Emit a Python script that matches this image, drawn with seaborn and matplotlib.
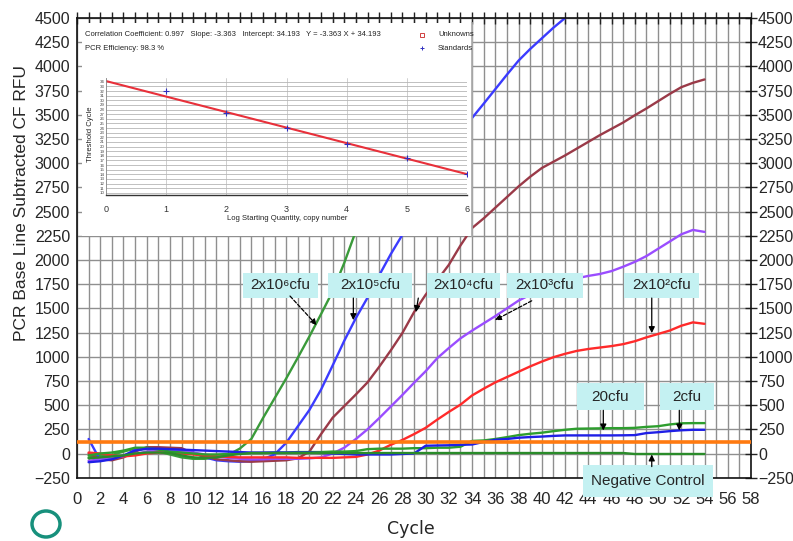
import numpy as np
import pandas as pd
import matplotlib
matplotlib.use("Agg")
import matplotlib.pyplot as plt
import seaborn as sns
from matplotlib.patches import Rectangle, Ellipse
from matplotlib.lines import Line2D
from matplotlib.ticker import MultipleLocator

# ---------------- data ----------------
cycles = list(range(1, 55))
nan = np.nan

rfu_2e6 = [-40, -20, -15, 20, 50, 45, 20, -10, -40, -55, -55, -40, -15, 50, 150, 365, 570, 775, 990, 1210,
           1440, 1675, 1970, 2300, 2650, 3000, 3350, 3700, 4000, 4250] + [nan] * 24
rfu_2e5 = [150, -70, -60, -30, 40, 50, 45, 40, 30, 10, -40, -70, -80, -85, -80, -60, -10, 110, 280, 450,
           660, 910, 1165, 1400, 1610, 1840, 2060, 2260, 2460, 2660, 2860, 3060, 3260, 3468, 3615, 3765,
           3915, 4060, 4180, 4290, 4400, 4500, 4600] + [nan] * 11
rfu_2e4 = [0, -60, -70, -40, 20, 65, 65, 60, 55, 0, -30, -60, -70, -80, -85, -80, -75, -70, -50, 20,
           200, 370, 490, 610, 735, 895, 1065, 1245, 1460, 1640, 1790, 1950, 2150, 2330, 2430, 2540,
           2650, 2760, 2860, 2950, 3015, 3080, 3150, 3220, 3290, 3355, 3420, 3495, 3565, 3640, 3715,
           3785, 3830, 3865]
rfu_2e3 = [-75, -60, -45, -30, -5, 20, 30, 30, 25, 10, -10, -30, -45, -55, -60, -60, -55, -55, -55, -50,
           -40, 0, 60, 150, 250, 365, 485, 605, 730, 850, 985, 1090, 1190, 1270, 1345, 1420, 1500, 1580,
           1640, 1690, 1735, 1770, 1810, 1835, 1855, 1885, 1930, 1980, 2040, 2115, 2190, 2265, 2310, 2290]
rfu_2e2 = [10, 0, -20, -30, -20, 0, 10, 10, 0, -10, -20, -30, -35, -40, -40, -40, -40, -40, -45, -45,
           -45, -45, -40, -35, -10, 30, 90, 140, 200, 265, 350, 430, 505, 600, 670, 735, 790, 845, 900,
           950, 995, 1030, 1060, 1080, 1095, 1110, 1130, 1160, 1200, 1235, 1270, 1320, 1355, 1340]
rfu_20 = [-20, 0, 10, 30, 60, 60, 40, 20, 10, 0, -10, -10, -5, 0, 5, 5, 10, 10, 15, 15, 15, 20, 20, 25,
          45, 50, 50, 50, 55, 55, 60, 60, 70, 130, 135, 150, 169, 190, 204, 215, 231, 245, 256, 258, 260,
          262, 262, 265, 275, 282, 300, 312, 314, 314]
rfu_2 = [-90, -80, -60, -20, 30, 50, 50, 45, 40, 35, 30, 25, 20, 15, 10, 10, 10, 10, 10, 10, 5, 0, -5,
         -10, -10, -10, -10, -5, 0, 80, 83, 85, 90, 93, 120, 142, 150, 163, 170, 175, 182, 187, 187, 187,
         187, 187, 188, 190, 211, 220, 231, 240, 245, 245]
rfu_neg = [-50, -40, -30, -20, 0, 10, 10, 5, -20, -40, -45, -40, -20, -5] + [5] * 33 + [-5] * 7
threshold = 117

series_names = ["2x10^6", "2x10^5", "2x10^4", "2x10^3", "2x10^2", "20cfu", "2cfu", "neg"]
series_vals = [rfu_2e6, rfu_2e5, rfu_2e4, rfu_2e3, rfu_2e2, rfu_20, rfu_2, rfu_neg]
series_colors = ["#3a9a3a", "#3b3bff", "#9a3a48", "#9a4dff", "#ff2a2a", "#2e9e2e", "#1f1fe6", "#2a8c2a"]

# standard curve (inset)
log_qty = [1, 2, 3, 4, 5, 6]
ct_std = [32.1, 27.2, 24.0, 20.5, 17.6, 14.1]
fit_slope = -3.363
fit_intercept = 34.193

x_ticks = list(range(0, 59, 2))
y_ticks = list(range(-250, 4501, 250))

# ---------------- figure ----------------
sns.set_theme(style="white")
SANS = ["Liberation Sans", "DejaVu Sans"]
plt.rcParams["font.family"] = SANS
W, H = 793, 541
fig = plt.figure(figsize=(W / 100, H / 100), dpi=100)
fig.patch.set_facecolor("white")


def fy(py):
    return 1 - py / H


AX_L, AX_R, AX_T, AX_B = 77, 751, 18, 477.7
ax = fig.add_axes([AX_L / W, fy(AX_B), (AX_R - AX_L) / W, (AX_B - AX_T) / H])
ax.set_facecolor("white")

rows = []
for name, vals in zip(series_names, series_vals):
    for c, v in zip(cycles, vals):
        if not np.isnan(v):
            rows.append({"cycle": c, "rfu": v, "series": name})
df = pd.DataFrame(rows)
sns.lineplot(data=df, x="cycle", y="rfu", hue="series", hue_order=series_names,
             palette=dict(zip(series_names, series_colors)), estimator=None,
             legend=False, lw=1.7, ax=ax, zorder=2)
ax.axhline(threshold, color="#ff7a10", lw=2.6, zorder=3)

ax.set_xlim(0, 58)
ax.set_ylim(-250, 4500)
ax.set_xticks(x_ticks)
ax.xaxis.set_minor_locator(MultipleLocator(1))
ax.set_yticks(y_ticks)
ax.set_axisbelow(True)
ax.grid(which="both", axis="x", color="#8f8f8f", lw=1.0)
ax.grid(which="major", axis="y", color="#8f8f8f", lw=1.0)
ax.tick_params(axis="both", which="both", direction="inout", top=True, right=True,
               labelright=True, color="#222222", width=1.0)
ax.tick_params(axis="y", length=9, labelsize=11.5, pad=0.5)
ax.tick_params(axis="x", which="both", length=8, labelsize=12, pad=6)
for s in ax.spines.values():
    s.set_color("#111111")
    s.set_linewidth(1.2)
ax.set_xlabel("")
ax.set_ylabel("")

fig.text(22 / W, fy(203), "PCR Base Line Subtracted CF RFU", rotation=90, ha="center", va="center",
         fontsize=12.5)
fig.text(411 / W, fy(529), "Cycle", ha="center", va="center", fontsize=12.5, family=["DejaVu Sans"])
fig.add_artist(Ellipse((46 / W, fy(524)), 28 / W, 26 / H, transform=fig.transFigure,
                       fill=False, ec="#17907c", lw=2.5))

# ---------------- labels & arrows ----------------
PX_C = (AX_R - AX_L) / 58.0
PX_V = (AX_B - AX_T) / 4750.0
labels = [
    ("2x10\u2076cfu", 17.5, 1736, 75, 25),
    ("2x10\u2075cfu", 25.2, 1736, 84, 25),
    ("2x10\u2074cfu", 33.26, 1736, 73, 25),
    ("2x10\u00b3cfu", 40.28, 1741, 76, 25),
    ("2x10\u00b2cfu", 50.34, 1741, 75, 25),
    ("20cfu", 45.87, 585, 67, 27),
    ("2cfu", 52.5, 585, 54, 27),
    ("Negative Control", 49.14, -284, 130, 32),
]
for txt, cx, cy, wp, hp in labels:
    w = wp / PX_C
    h = hp / PX_V
    ax.add_patch(Rectangle((cx - w / 2, cy - h / 2), w, h, fc="#c4f1f2", ec="none",
                           zorder=5, clip_on=False))
    ax.text(cx, cy, txt, ha="center", va="center", fontsize=11, zorder=6)

arrows = [
    ((20.63, 1326), (18.33, 1627), "dash"),
    ((23.78, 1378), (23.78, 1606), "solid"),
    ((29.17, 1461), (29.37, 1606), "solid"),
    ((35.97, 1378), (39.13, 1578), "dash"),
    ((49.46, 1244), (49.46, 1606), "solid"),
    ((45.29, 238), (45.29, 446), "solid"),
    ((51.83, 238), (51.83, 446), "solid"),
    ((49.46, -10), (49.46, -135), "solid"),
]
for head, tail, style in arrows:
    ls = (0, (3, 1.5)) if style == "dash" else "-"
    ax.annotate("", xy=head, xytext=tail, zorder=7, annotation_clip=False,
                arrowprops=dict(arrowstyle="-|>", color="black", lw=0.9, ls=ls,
                                mutation_scale=9, shrinkA=0, shrinkB=0))

# ---------------- inset ----------------
panel = fig.add_axes([82 / W, fy(236), (472 - 82) / W, (236 - 23) / H])
panel.set_facecolor("white")
panel.set_xticks([])
panel.set_yticks([])
for k, s in panel.spines.items():
    s.set_visible(k == "right")
    s.set_color("#aaaaaa")

ins = fig.add_axes([105.7 / W, fy(195.1), (467.3 - 105.7) / W, (195.1 - 77.7) / H])
ins.set_facecolor("none")
ins.set_xlim(0, 6)
ins.set_ylim(9.5, 34.9)
ins.set_xticks(range(0, 7))
ins.set_yticks(range(10, 35))
ins.grid(axis="y", color="#b5b5b5", lw=0.6)
ins.grid(axis="x", color="#c8c8c8", lw=0.6)
ins.tick_params(axis="x", labelsize=6.5, length=2, pad=5, colors="#333333")
ins.tick_params(axis="y", labelsize=3.2, length=0, pad=1, colors="#444444")
for k, s in ins.spines.items():
    s.set_visible(k in ("bottom", "left"))
    s.set_color("#333333" if k == "bottom" else "#888888")
    s.set_linewidth(1.0 if k == "bottom" else 0.6)
fit_x = [0, 6]
fit_y = [fit_intercept + fit_slope * x for x in fit_x]
sns.lineplot(x=fit_x, y=fit_y, color="#e8303a", lw=1.5, ax=ins)
sns.scatterplot(x=log_qty, y=ct_std, marker="+", color="#3030c0", s=14, linewidth=0.8, ax=ins, zorder=4)
ins.set_xlabel("")
ins.set_ylabel("")

fig.text(85 / W, fy(35), "Correlation Coefficient: 0.997   Slope: -3.363   Intercept: 34.193   "
         "Y = -3.363 X + 34.193", fontsize=5.5, va="center", color="#222222")
fig.text(85 / W, fy(48), "PCR Efficiency: 98.3 %", fontsize=5.5, va="center", color="#222222")
fig.add_artist(Line2D([422 / W], [fy(35)], marker="s", ms=2.5, mfc="none", mec="#d04040",
                      mew=0.7, transform=fig.transFigure))
fig.add_artist(Line2D([422 / W], [fy(48)], marker="+", ms=3, color="#3030c0", mew=0.7,
                      transform=fig.transFigure))
fig.text(438 / W, fy(35), "Unknowns", fontsize=5.5, va="center", color="#222222")
fig.text(438 / W, fy(48), "Standards", fontsize=5.5, va="center", color="#222222")
fig.text(90 / W, fy(134), "Threshold Cycle", rotation=90, fontsize=5.5, ha="center", va="center",
         color="#222222")
fig.text(287 / W, fy(219), "Log Starting Quantity, copy number", fontsize=5.5, ha="center", va="center",
         color="#222222")

fig.savefig("out.png", dpi=100, facecolor="white")
